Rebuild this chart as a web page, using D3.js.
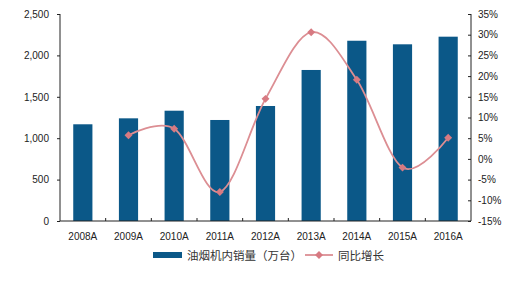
<!DOCTYPE html>
<html lang="zh">
  <head>
    <meta charset="utf-8" />
    <title>油烟机内销量</title>
    <script src="https://d3js.org/d3.v7.min.js"></script>
    <style type="text/css">
      body {
        margin: 0;
        background: #fff;
      }
      text {
        font-family: "Liberation Sans", Arial, sans-serif;
        font-size: 10px;
        fill: #222;
      }
      .legend text {
        font-family: "Noto Sans CJK SC", sans-serif;
        font-size: 11.5px;
        fill: #333;
      }
      .domain,
      .tick line {
        stroke: #222;
      }
    </style>
  </head>
  <body>
    <script type="text/javascript">
      const w = 524;
      const h = 290;

      // Data
      const years = ["2008A", "2009A", "2010A", "2011A", "2012A", "2013A", "2014A", "2015A", "2016A"];
      const sales = [1168, 1240, 1332, 1220, 1389, 1824, 2177, 2134, 2226];
      const growth = [null, 5.7, 7.3, -8.0, 14.5, 30.6, 19.1, -2.1, 5.1];
      const leftTicks = [0, 500, 1000, 1500, 2000, 2500];
      const rightTicks = [-15, -10, -5, 0, 5, 10, 15, 20, 25, 30, 35];
      const legendNames = ["油烟机内销量（万台）", "同比增长"];

      const barColor = "#0b5888";
      const lineColor = "#dc8e93";
      const markColor = "#d77a82";

      const mLeft = 60, mRight = 471, mTop = 14, mBottom = 221;

      const svg = d3.select("body").append("svg").attr("width", w).attr("height", h);

      const x = d3.scaleBand().domain(years).range([mLeft, mRight]).paddingInner(0.58).paddingOuter(0.29);
      const yL = d3.scaleLinear().domain([0, 2500]).range([mBottom, mTop]);
      const yR = d3.scaleLinear().domain([-15, 35]).range([mBottom, mTop]);

      // Bars
      svg.selectAll("rect.bar")
        .data(sales)
        .enter()
        .append("rect")
        .attr("class", "bar")
        .attr("x", (d, i) => x(years[i]))
        .attr("y", d => yL(d))
        .attr("width", x.bandwidth())
        .attr("height", d => mBottom - yL(d))
        .attr("fill", barColor);

      // Left axis
      const gL = svg.append("g")
        .attr("transform", "translate(" + mLeft + ",0)")
        .call(d3.axisLeft(yL).tickValues(leftTicks).tickSize(3).tickPadding(8).tickFormat(d3.format(",")));

      // Right axis (ticks on inside)
      const gR = svg.append("g")
        .attr("transform", "translate(" + mRight + ",0)")
        .call(d3.axisRight(yR).tickValues(rightTicks).tickSize(0).tickPadding(7).tickFormat(d => d + "%"));
      gR.selectAll(".tick line").attr("x1", -3).attr("x2", 0);

      gL.select(".domain").attr("d", "M0," + mTop + "V" + mBottom);
      gR.select(".domain").attr("d", "M0," + mTop + "V" + mBottom);

      // Bottom axis with ticks between categories
      svg.append("line")
        .attr("x1", mLeft).attr("x2", mRight)
        .attr("y1", mBottom).attr("y2", mBottom)
        .attr("stroke", "#222");
      const gap = (x.step() - x.bandwidth()) / 2;
      svg.selectAll("line.xtick")
        .data(years.slice(1))
        .enter()
        .append("line")
        .attr("class", "xtick")
        .attr("x1", d => x(d) - gap)
        .attr("x2", d => x(d) - gap)
        .attr("y1", mBottom).attr("y2", mBottom - 3)
        .attr("stroke", "#222");
      svg.selectAll("text.xlabel")
        .data(years)
        .enter()
        .append("text")
        .attr("class", "xlabel")
        .attr("x", d => x(d) + x.bandwidth() / 2)
        .attr("y", 240)
        .attr("text-anchor", "middle")
        .text(d => d);

      // Growth line
      const pts = growth
        .map((g, i) => ({ g: g, yr: years[i] }))
        .filter(d => d.g !== null);
      const line = d3.line()
        .x(d => x(d.yr) + x.bandwidth() / 2)
        .y(d => yR(d.g))
        .curve(d3.curveCardinal.tension(0));
      svg.append("path")
        .datum(pts)
        .attr("d", line)
        .attr("fill", "none")
        .attr("stroke", lineColor)
        .attr("stroke-width", 1.8);

      const diamond = d3.symbol().type(d3.symbolDiamond2).size(40);
      svg.selectAll("path.mark")
        .data(pts)
        .enter()
        .append("path")
        .attr("class", "mark")
        .attr("d", diamond)
        .attr("transform", d => "translate(" + (x(d.yr) + x.bandwidth() / 2) + "," + yR(d.g) + ")")
        .attr("fill", markColor);

      // Legend
      const lg = svg.append("g").attr("class", "legend");
      lg.append("rect")
        .attr("x", 153).attr("y", 252)
        .attr("width", 29).attr("height", 6)
        .attr("fill", barColor);
      lg.append("text")
        .attr("x", 187).attr("y", 259.5)
        .text(legendNames[0]);
      lg.append("line")
        .attr("x1", 305).attr("x2", 333)
        .attr("y1", 255).attr("y2", 255)
        .attr("stroke", lineColor)
        .attr("stroke-width", 1.8);
      lg.append("path")
        .attr("d", diamond)
        .attr("transform", "translate(319,255)")
        .attr("fill", markColor);
      lg.append("text")
        .attr("x", 338).attr("y", 259.5)
        .text(legendNames[1]);
    </script>
  </body>
</html>
